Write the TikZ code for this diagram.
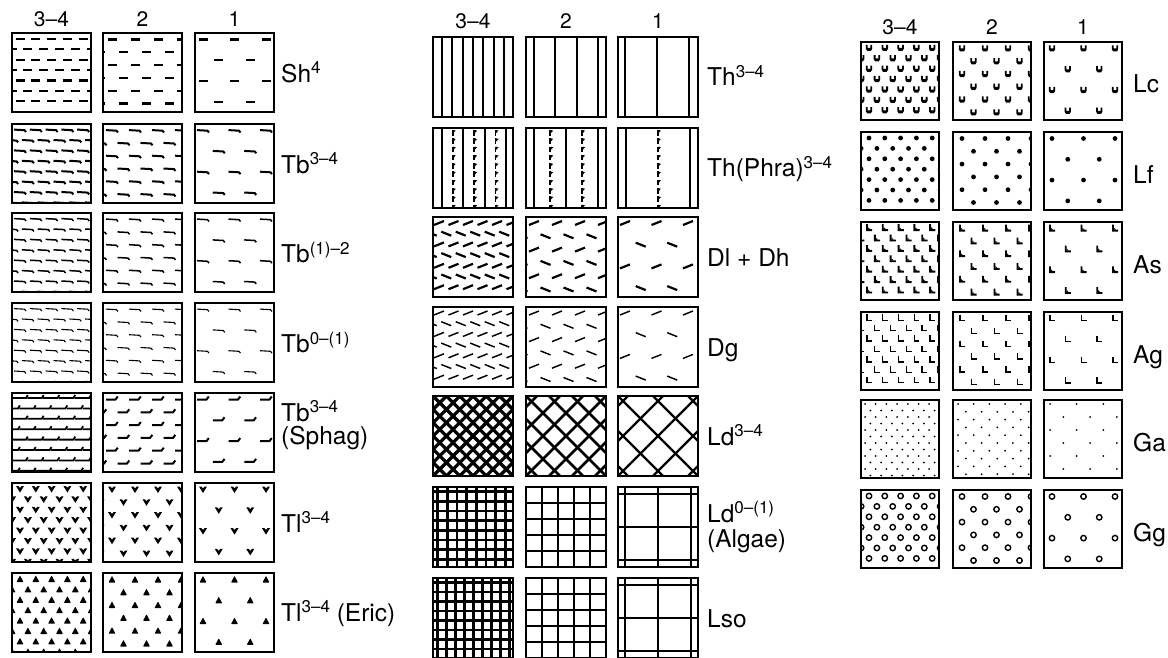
\documentclass[tikz,border=0pt]{standalone}
\usepackage{fontspec}
\setmainfont{TeX Gyre Heros}
\tikzset{
  boxst/.style={line width=2pt},
  thl/.style={line width=2pt},
  grl/.style={line width=\grw pt},
  xhl/.style={line width=\xhw pt},
  hdr/.style={font=\fontsize{21}{23}\selectfont, anchor=base, inner sep=0pt},
  lab/.style={font=\fontsize{24.5}{27}\selectfont, anchor=base west, inner sep=0pt}
}
\def\grw{2}\def\xhw{2}
\newcommand\sups[1]{\raisebox{8.5pt}{\fontsize{17}{18}\selectfont #1}}
% marks (local coordinates, y pointing down)
\def\mkSh{\draw[line width=2.2pt] (-4.5,0)--(4.5,0);}
\def\mkTb{\draw[line width=2pt] (-6,-0.4)--(4.5,0.2)--(6,2);}
\def\mkTbm{\draw[line width=1.5pt] (-6,-0.4)--(4.5,0.2)--(6,2);}
\def\mkTbl{\draw[line width=1.1pt] (-6,-0.4)--(4.5,0.2)--(6,2);}
\def\mkSp{\draw[line width=2pt] (-6,0)--(3.5,0)--(5.8,-3);}
\def\mkSpd{\draw[line width=1.8pt] (-8.5,0)--(6,0)--(7.8,-3);}
\def\mkTl{\fill (-4,-3) -- (-1.6,-3) -- (0,-1.1) -- (1.6,-3) -- (4,-3) -- (0,3.5) -- cycle;}
\def\mkEr{\fill[rounded corners=0.6pt] (0,-3.6) -- (3.5,3) -- (-3.5,3) -- cycle;}
\def\mkDa{\draw[line width=2.2pt] (-5,2)--(5,-2);}
\def\mkDb{\draw[line width=2.2pt] (-5,-2)--(5,2);}
\def\mkDc{\draw[line width=1.4pt] (-5,2)--(5,-2);}
\def\mkDd{\draw[line width=1.4pt] (-5,-2)--(5,2);}
\def\mkLc{\fill (-3.2,-3.2) -- (-3.2,0.8) -- (-1.8,3) -- (1.8,3) -- (3.2,0.8) -- (3.2,-3.2) -- (1.4,-3.2) -- (1.4,0) -- (-1.4,0) -- (-1.4,-3.2) -- cycle;}
\def\mkLf{\fill (0,0) circle (2.4);}
\def\mkAs{\fill (-3,-3.8) -- (-1.1,-3.8) -- (-1.1,1.1) -- (3.2,1.1) -- (3.2,3) -- (-3,3) -- cycle; \fill (-1.1,1.1) -- (-1.1,-0.8) -- (0.9,1.1) -- cycle;}
\def\mkAg{\draw[line width=1.4pt] (-2.2,-3.6) -- (-2.2,2.2) -- (3,2.2);}
\def\mkGa{\fill (0,0) circle (1.0);}
\def\mkGg{\draw[line width=1.4pt] (0,0) circle (2.7);}
\def\mkFl{\fill (-0.9,-3) rectangle (0.9,2.6); \fill (0.6,-3) -- (3,-2.3) -- (0.6,0.2) -- cycle;}
% staggered lattice: x0 y0 dx dy ox oy markEven markOdd
\newcommand\lat[8]{%
 \begin{scope}
  \clip (#1,#2) rectangle ++(\bw,\bw);
  \pgfmathtruncatemacro\latnr{(\bw-#6)/#4}%
  \pgfmathtruncatemacro\latnc{(\bw-#5)/#3+1}%
  \foreach \r in {0,...,\latnr}{%
    \pgfmathtruncatemacro\rodd{mod(\r,2)}%
    \ifnum\rodd=0 \let\curmk=#7\def\rsh{0}\else\let\curmk=#8\def\rsh{0.5}\fi
    \foreach \c in {-1,...,\latnc}{%
      \begin{scope}[shift={({#1+#5+(\c+\rsh)*#3},{#2+#6+\r*#4})}]\curmk\end{scope}
    }%
  }%
 \end{scope}}
\newcommand\dens[1]{%
 \ifcase#1\or \def\DX{31.5}\def\DY{20.8}\def\OX{8}\def\OY{6.5}%
 \or \def\DX{23}\def\DY{12.8}\def\OX{9}\def\OY{6.5}%
 \or \def\DX{15.8}\def\DY{10.4}\def\OX{8}\def\OY{6}\fi}
\newcommand\threeboxes[1]{%
 \draw[boxst] (\xa,#1) rectangle ++(\bw,\bw);
 \draw[boxst] (\xb,#1) rectangle ++(\bw,\bw);
 \draw[boxst] (\xc,#1) rectangle ++(\bw,\bw);}
\newcommand\prow[3]{%
 \dens{3}\lat{\xa}{#1}{\DX}{\DY}{\OX}{\OY}{#2}{#3}%
 \dens{2}\lat{\xb}{#1}{\DX}{\DY}{\OX}{\OY}{#2}{#3}%
 \dens{1}\lat{\xc}{#1}{\DX}{\DY}{\OX}{\OY}{#2}{#3}%
 \threeboxes{#1}}
% vertical lines: x0 y0 ox dx
\newcommand\vlines[4]{%
 \foreach \k in {0,...,9}{%
   \pgfmathsetmacro\xx{#3+\k*#4}%
   \ifdim\xx pt<\bw pt \draw[thl] ({#1+\xx},#2) -- ++(0,\bw); \fi}}
% Phragmites: x0 y0 ox dx
\newcommand\phra[4]{%
 \begin{scope}\clip (#1,#2) rectangle ++(\bw,\bw);
 \foreach \k in {0,...,9}{%
   \pgfmathsetmacro\xx{#3+\k*#4}%
   \ifdim\xx pt<\bw pt
     \ifodd\k
       \foreach \j in {0,...,10}{\begin{scope}[shift={({#1+\xx},{#2+5+\j*8.3})}]\mkFl\end{scope}}%
     \else
       \draw[thl] ({#1+\xx},#2) -- ++(0,\bw);
     \fi
   \fi}%
 \end{scope}}
% orthogonal grid: x0 y0 ox dx dy
\newcommand\grid[5]{%
 \begin{scope}\clip (#1,#2) rectangle ++(\bw,\bw);
 \foreach \k in {0,...,10}{%
   \pgfmathsetmacro\xx{#3+\k*#4}%
   \ifdim\xx pt<\bw pt \draw[grl] ({#1+\xx},#2) -- ++(0,\bw); \fi
   \pgfmathsetmacro\yy{#3+\k*#5}%
   \ifdim\yy pt<\bw pt \draw[grl] (#1,{#2+\yy}) -- ++(\bw,0); \fi}%
 \end{scope}}
% diagonal cross hatch: x0 y0 s
\newcommand\xhatch[3]{%
 \begin{scope}\clip (#1,#2) rectangle ++(\bw,\bw);
 \foreach \k in {-7,...,7}{%
   \draw[xhl] ({#1+\k*#3},#2) -- ++(\bw,\bw);
   \draw[xhl] ({#1+\bw+\k*#3},#2) -- ++(-\bw,\bw);}%
 \end{scope}}
\begin{document}
\begin{tikzpicture}[x=1pt,y=-1pt]
\fill[white] (0,0) rectangle (1168,658);
\useasboundingbox (0,0) rectangle (1168,658);
% ---------------- left group
\def\bw{79}\def\xa{12}\def\xb{103}\def\xc{195}
\node[hdr] (hL3) at (51.5,27) {3–4};
\node[hdr] (hL2) at (142.5,27) {2};
\node[hdr] (hL1) at (234.5,27) {1};
\prow{33}{\mkSh}{\mkSh}
\prow{124}{\mkTb}{\mkTb}
\prow{213}{\mkTbm}{\mkTbm}
\prow{303}{\mkTbl}{\mkTbl}
\dens{3}\lat{\xa}{393}{\DX}{\DY}{\OX}{5}{\mkSpd}{\mkSpd}
\dens{2}\lat{\xb}{393}{\DX}{\DY}{\OX}{\OY}{\mkSp}{\mkSp}
\dens{1}\lat{\xc}{393}{\DX}{\DY}{\OX}{\OY}{\mkSp}{\mkSp}
\threeboxes{393}
\prow{483}{\mkTl}{\mkTl}
\prow{573}{\mkEr}{\mkEr}
\node[lab] (sh) at (281,82.5) {Sh\sups{4}};
\node[lab] (tb) at (281,173.5) {Tb\sups{3–4}};
\node[lab] (tbm) at (281,262.5) {Tb\sups{(1)–2}};
\node[lab] (tbl) at (281,352.5) {Tb\sups{0–(1)}};
\node[lab] (sph1) at (281,421) {Tb\sups{3–4}};
\node[lab] (sph2) at (281,444) {(Sphag)};
\node[lab] (tl) at (281,532) {Tl\sups{3–4}};
\node[lab] (eric) at (281,621) {Tl\sups{3–4} (Eric)};
% ---------------- middle group
\def\bw{80}\def\xa{433}\def\xb{526}\def\xc{618}
\node[hdr] (hM3) at (473,29) {3–4};
\node[hdr] (hM2) at (566,29) {2};
\node[hdr] (hM1) at (658,29) {1};
\vlines{\xa}{37}{9}{10.3}
\vlines{\xb}{37}{8}{21.3}
\vlines{\xc}{37}{7}{32}
\threeboxes{37}
\phra{\xa}{128}{9}{10.7}
\phra{\xb}{128}{8.3}{15.9}
\phra{\xc}{128}{8.3}{31.6}
\threeboxes{128}
\lat{\xa}{217}{14.5}{10.7}{6}{6}{\mkDa}{\mkDb}
\lat{\xb}{217}{23}{13.3}{8}{6}{\mkDa}{\mkDb}
\lat{\xc}{217}{31.5}{21.7}{7}{6}{\mkDa}{\mkDb}
\threeboxes{217}
\lat{\xa}{307}{14.5}{10.7}{6}{6}{\mkDc}{\mkDd}
\lat{\xb}{307}{23}{13.3}{8}{6}{\mkDc}{\mkDd}
\lat{\xc}{307}{31.5}{21.7}{7}{6}{\mkDc}{\mkDd}
\threeboxes{307}
\def\xhw{3.2}\xhatch{\xa}{396}{13.3}
\def\xhw{2.5}\xhatch{\xb}{396}{23}
\def\xhw{2.3}\xhatch{\xc}{396}{35}
\threeboxes{396}
\def\grw{2.8}\grid{\xa}{487}{4.5}{9.7}{9.7}
\def\grw{2.3}\grid{\xb}{487}{16}{16}{16}
\def\grw{2.2}\grid{\xc}{487}{7}{33}{33}
\threeboxes{487}
\def\grw{2.6}\grid{\xa}{578}{4.5}{9}{9.5}
\def\grw{2.3}\grid{\xb}{578}{16}{16}{16}
\def\grw{2.2}\grid{\xc}{578}{7}{33}{33}
\threeboxes{578}
\node[lab] (th) at (707,86) {Th\sups{3–4}};
\node[lab] (phra) at (707,177) {Th(Phra)\sups{3–4}};
\node[lab] (dl) at (707,266) {Dl + Dh};
\node[lab] (dg) at (707,356) {Dg};
\node[lab] (ld) at (707,445) {Ld\sups{3–4}};
\node[lab] (alg1) at (707,522) {Ld\sups{0–(1)}};
\node[lab] (alg2) at (707,547) {(Algae)};
\node[lab] (lso) at (707,627) {Lso};
% ---------------- right group
\def\bw{78}\def\xa{861}\def\xb{953}\def\xc{1044}
\node[hdr] (hR3) at (900,35) {3–4};
\node[hdr] (hR2) at (992,35) {2};
\node[hdr] (hR1) at (1083,35) {1};
\prow{42}{\mkLc}{\mkLc}
\prow{132}{\mkLf}{\mkLf}
\prow{222}{\mkAs}{\mkAs}
\prow{312}{\mkAg}{\mkAg}
\lat{\xa}{400}{10.7}{6.5}{4}{4}{\mkGa}{\mkGa}
\lat{\xb}{400}{15.7}{7.8}{5}{4}{\mkGa}{\mkGa}
\lat{\xc}{400}{26.7}{13}{6}{4}{\mkGa}{\mkGa}
\threeboxes{400}
\prow{490}{\mkGg}{\mkGg}
\node[lab] (lc) at (1133,93) {Lc};
\node[lab] (lf) at (1133,183) {Lf};
\node[lab] (as) at (1133,273) {As};
\node[lab] (ag) at (1133,363) {Ag};
\node[lab] (ga) at (1133,451) {Ga};
\node[lab] (gg) at (1133,541) {Gg};
\end{tikzpicture}
\end{document}
